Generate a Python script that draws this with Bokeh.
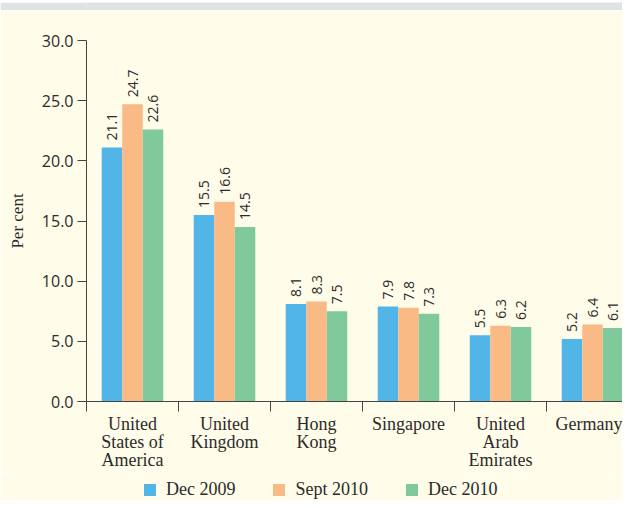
from bokeh.plotting import figure
from bokeh.layouts import column
from bokeh.models import (ColumnDataSource, Range1d, FixedTicker, Legend, LegendItem,
                          NumeralTickFormatter)
from bokeh.transform import dodge
from bokeh.core.properties import value
from bokeh.embed import file_html
from bokeh.resources import INLINE
import math

countries = ["United\nStates of\nAmerica", "United\nKingdom", "Hong\nKong",
             "Singapore", "United\nArab\nEmirates", "Germany"]
dec_2009 = [21.1, 15.5, 8.1, 7.9, 5.5, 5.2]
sept_2010 = [24.7, 16.6, 8.3, 7.8, 6.3, 6.4]
dec_2010 = [22.6, 14.5, 7.5, 7.3, 6.2, 6.1]
series_names = ["Dec 2009", "Sept 2010", "Dec 2010"]
y_ticks = [0, 5, 10, 15, 20, 25, 30]

colors = ["#52b5e8", "#f9ba86", "#80c99b"]
bg = "#fffce9"
band = "#dfe3e6"
txt = "#2b2b2b"
axc = "#444444"
W = 622

xc = [i + 0.5 for i in range(len(countries))]
src = ColumnDataSource(dict(
    x=xc, d09=dec_2009, s10=sept_2010, d10=dec_2010,
    l09=[f"{v:.1f}" for v in dec_2009],
    ls10=[f"{v:.1f}" for v in sept_2010],
    l10=[f"{v:.1f}" for v in dec_2010],
))

# top grey band
top = figure(width=W, height=10, output_backend="svg", toolbar_location=None,
             x_axis_type=None, y_axis_type=None, min_border=0)
top.background_fill_color = band
top.border_fill_color = band
top.outline_line_color = None
top.grid.visible = False

p = figure(width=W, height=462, output_backend="svg", toolbar_location=None,
           x_range=Range1d(0, 5.826), y_range=Range1d(0, 30),
           min_border_left=86, min_border_top=30, min_border_right=0,
           min_border_bottom=69)
p.background_fill_color = bg
p.border_fill_color = bg
p.outline_line_color = None
p.grid.visible = False

bw = 0.223
offs = [-bw, 0.0, bw]
cols = ["d09", "s10", "d10"]
lcols = ["l09", "ls10", "l10"]
renderers = []
for off, c, lc, col in zip(offs, cols, lcols, colors):
    r = p.vbar(x=dodge("x", off), top=c, width=bw, source=src,
               fill_color=col, line_color=None)
    renderers.append(r)
    p.text(x=dodge("x", off), y=c, text=lc, source=src, angle=math.pi / 2,
           text_align="left", text_baseline="middle", x_offset=0, y_offset=-7,
           text_font=value("Open Sans"), text_font_size="14px", text_color=txt)

# y axis
ya = p.yaxis[0]
ya.ticker = FixedTicker(ticks=y_ticks)
ya.formatter = NumeralTickFormatter(format="0.0")
ya.axis_label = "Per cent"
ya.axis_label_text_font = "Liberation Serif"
ya.axis_label_text_font_style = "normal"
ya.axis_label_text_font_size = "17px"
ya.axis_label_text_color = txt
ya.axis_label_standoff = 12
ya.major_label_text_font = "Open Sans"
ya.major_label_text_font_size = "16px"
ya.major_label_text_color = txt
ya.major_tick_in = 0
ya.major_tick_out = 9
ya.minor_tick_line_color = None
ya.axis_line_color = axc
ya.major_tick_line_color = axc
ya.major_label_standoff = 4

# x axis
xa = p.xaxis[0]
xa.ticker = FixedTicker(ticks=xc, minor_ticks=list(range(0, 7)))
xa.major_label_overrides = {v: lab for v, lab in zip(xc, countries)}
xa.major_tick_in = 0
xa.major_tick_out = 0
xa.minor_tick_in = 0
xa.minor_tick_out = 10
xa.minor_tick_line_color = axc
xa.major_tick_line_color = None
xa.axis_line_color = axc
xa.major_label_standoff = 2
xa.major_label_text_font = "Liberation Serif"
xa.major_label_text_font_size = "18px"
xa.major_label_text_color = txt
xa.major_label_text_line_height = 0.9

# legend strip
lg = figure(width=W, height=28, output_backend="svg", toolbar_location=None,
            x_axis_type=None, y_axis_type=None, min_border=0,
            x_range=Range1d(0, 1), y_range=Range1d(0, 1))
lg.background_fill_color = bg
lg.border_fill_color = bg
lg.outline_line_color = None
lg.grid.visible = False
lrs = [lg.vbar(x=[-5], top=[-5], bottom=[-6], width=0.1, fill_color=c, line_color=None)
       for c in colors]
legend = Legend(items=[LegendItem(label=n, renderers=[r]) for n, r in zip(series_names, lrs)],
                orientation="horizontal", location=(56, 0),
                glyph_width=15, glyph_height=15, label_standoff=9, spacing=36,
                padding=0, margin=0, border_line_color=None,
                background_fill_alpha=0,
                label_text_font="Liberation Serif", label_text_font_size="18px",
                label_text_color=txt)
lg.add_layout(legend, "center")

layout = column(top, p, lg, spacing=0)
open("out.html", "w").write(file_html(layout, INLINE))
